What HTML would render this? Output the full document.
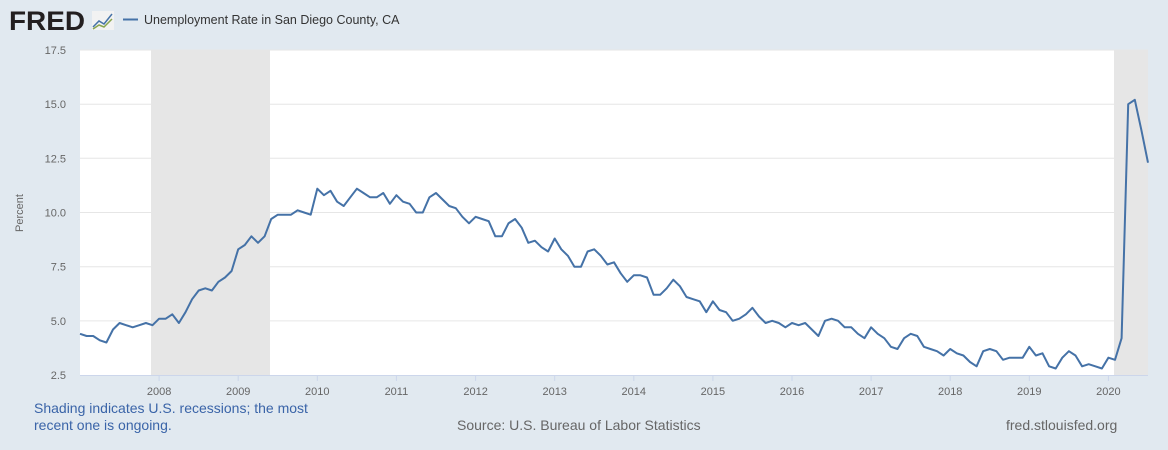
<!DOCTYPE html>
<html><head><meta charset="utf-8"><style>
body{margin:0;width:1168px;height:450px;background:#e1e9f0;font-family:"Liberation Sans",Arial,sans-serif;overflow:hidden}
</style></head><body>
<svg id="s" width="1168" height="450" xmlns="http://www.w3.org/2000/svg" style="position:absolute;left:0;top:0">
<text x="9" y="30" font-size="27" font-weight="bold" fill="#231f20" font-family="Liberation Sans,sans-serif" textLength="76" lengthAdjust="spacingAndGlyphs">FRED</text>
<rect x="92" y="11" width="22" height="19" fill="#f2f2f2"/>
<polyline points="93,27 99,21 104,24 112,14" fill="none" stroke="#4572a7" stroke-width="1.5"/>
<polyline points="93,29 99,25 104,27 112,19" fill="none" stroke="#89a54e" stroke-width="1.5"/>
<line x1="123" y1="19.5" x2="138" y2="19.5" stroke="#4572a7" stroke-width="2"/>
<text x="144" y="24" font-size="12.5" fill="#333">Unemployment Rate in San Diego County, CA</text>
<rect x="80" y="50" width="1068" height="325" fill="#fff"/>
<rect x="151" y="50" width="119" height="325" fill="#e6e6e6"/>
<rect x="1114" y="50" width="34" height="325" fill="#e6e6e6"/>
<g id="grid"></g>
<line x1="80" y1="375.5" x2="1148" y2="375.5" stroke="#ccd6eb"/>
<text transform="translate(23,213) rotate(-90)" text-anchor="middle" font-size="11" fill="#666">Percent</text>
<polyline id="ln" fill="none" stroke="#4572a7" stroke-width="2" stroke-linejoin="round"/>
<text x="34" y="413" font-size="14" fill="#3a64a8">Shading indicates U.S. recessions; the most</text>
<text x="34" y="430" font-size="14" fill="#3a64a8">recent one is ongoing.</text>
<text x="457" y="430" font-size="14" fill="#666">Source: U.S. Bureau of Labor Statistics</text>
<text x="1006" y="430" font-size="14" fill="#666">fred.stlouisfed.org</text>
</svg>
<script>
var d=[4.4,4.3,4.3,4.1,4.0,4.6,4.9,4.8,4.7,4.8,4.9,4.8,
5.1,5.1,5.3,4.9,5.4,6.0,6.4,6.5,6.4,6.8,7.0,7.3,
8.3,8.5,8.9,8.6,8.9,9.7,9.9,9.9,9.9,10.1,10.0,9.9,
11.1,10.8,11.0,10.5,10.3,10.7,11.1,10.9,10.7,10.7,10.9,10.4,
10.8,10.5,10.4,10.0,10.0,10.7,10.9,10.6,10.3,10.2,9.8,9.5,
9.8,9.7,9.6,8.9,8.9,9.5,9.7,9.3,8.6,8.7,8.4,8.2,
8.8,8.3,8.0,7.5,7.5,8.2,8.3,8.0,7.6,7.7,7.2,6.8,
7.1,7.1,7.0,6.2,6.2,6.5,6.9,6.6,6.1,6.0,5.9,5.4,
5.9,5.5,5.4,5.0,5.1,5.3,5.6,5.2,4.9,5.0,4.9,4.7,
4.9,4.8,4.9,4.6,4.3,5.0,5.1,5.0,4.7,4.7,4.4,4.2,
4.7,4.4,4.2,3.8,3.7,4.2,4.4,4.3,3.8,3.7,3.6,3.4,
3.7,3.5,3.4,3.1,2.9,3.6,3.7,3.6,3.2,3.3,3.3,3.3,
3.8,3.4,3.5,2.9,2.8,3.3,3.6,3.4,2.9,3.0,2.9,2.8,
3.3,3.2,4.2,15.0,15.2,13.8,12.3];
var p=d.map(function(v,i){return (80+i*1068/162).toFixed(1)+","+(375-(v-2.5)*21.667).toFixed(1)}).join(" ");
document.getElementById("ln").setAttribute("points",p);
var g="";
for(var k=0;k<6;k++){var y=(50+k*54.17).toFixed(1);
g+='<line x1="80" x2="1148" y1="'+y+'" y2="'+y+'" stroke="#e6e6e6"/>';}
for(var k=0;k<7;k++){var y=50+k*54.17;g+='<text x="66" y="'+(y+4).toFixed(1)+'" font-size="11" fill="#666" text-anchor="end">'+(17.5-k*2.5).toFixed(1)+'</text>';}
for(var yr=2008;yr<=2020;yr++){var x=80+(yr-2007)*1068/13.5;
g+='<line x1="'+x.toFixed(1)+'" x2="'+x.toFixed(1)+'" y1="375" y2="381" stroke="#ccd6eb"/>';
g+='<text x="'+x.toFixed(1)+'" y="395" font-size="11" fill="#666" text-anchor="middle">'+yr+'</text>';}
document.getElementById("grid").innerHTML=g;
</script>
</body></html>
